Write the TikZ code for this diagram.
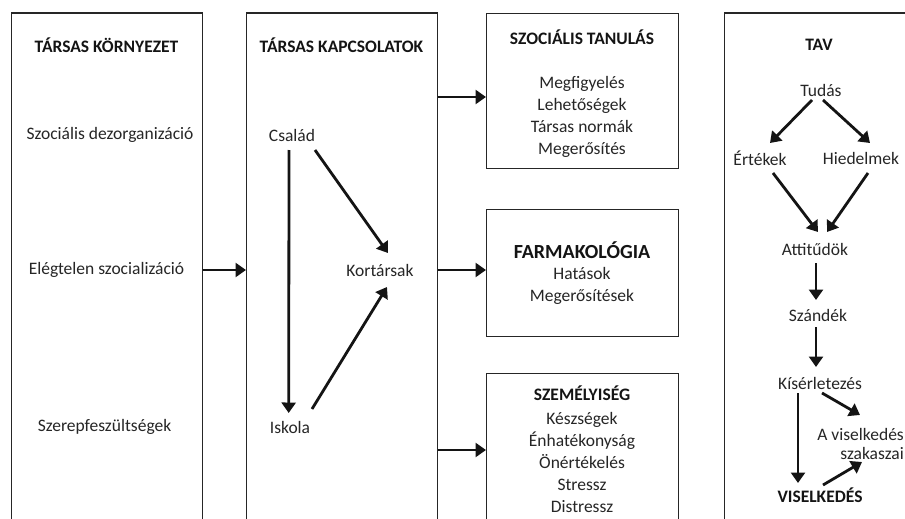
\documentclass[tikz,border=0pt]{standalone}
\usepackage{fontspec}
\setmainfont{Carlito}
\usetikzlibrary{arrows.meta}
\begin{document}
\begin{tikzpicture}[x=1pt,y=-1pt,
  box/.style={draw=black!85, line width=1.3pt, anchor=north west, inner sep=0pt},
  txt/.style={font=\fontsize{17.5}{22}\selectfont, text=black!85, inner sep=0pt, align=center},
  hd/.style={font=\fontsize{17.5}{22}\selectfont\bfseries, text=black!92, inner sep=0pt, align=center},
  arr/.style={line width=2.8pt, draw=black!92, -{Triangle[length=10.5pt,width=14pt]}},
]
\useasboundingbox (0,0) rectangle (905,519);
\clip (0,0) rectangle (905,519);
\fill[white] (0,0) rectangle (905,519);

% boxes
\node[box, minimum width=191pt, minimum height=560pt] (env) at (11,12.5) {};
\node[box, minimum width=191pt, minimum height=560pt] (kap) at (246,12.5) {};
\node[box, minimum width=192pt, minimum height=155pt] (szt) at (486,13) {};
\node[box, minimum width=192pt, minimum height=127pt] (farm) at (486,209) {};
\node[box, minimum width=192pt, minimum height=200pt] (szem) at (486,372.5) {};
\node[box, minimum width=200pt, minimum height=560pt] (tav) at (724,12.5) {};

% box 1
\node[hd] (envh) at (106.5,45) {TÁRSAS KÖRNYEZET};
\node[txt] (dezorg) at (110,135) {Szociális dezorganizáció};
\node[txt] (eleg) at (106.5,270) {Elégtelen szocializáció};
\node[txt] (szerep) at (104.5,427) {Szerepfeszültségek};

% box 2
\node[hd] (kaph) at (341.5,45) {TÁRSAS KAPCSOLATOK};
\node[txt] (csalad) at (292,135) {Család};
\node[txt] (kort) at (380,270) {Kortársak};
\node[txt] (iskola) at (290,427) {Iskola};

\draw[arr] ([shift={(-3,15)}]csalad.center) -- ([shift={(-1.3,-14)}]iskola.center);
\draw[arr] ([shift={(23,15)}]csalad.center) -- ([shift={(8,-17)}]kort.center);
\draw[arr] ([shift={(22,-18)}]iskola.center) -- ([shift={(7,17)}]kort.center);

% box 3
\node[hd] (szth) at (582,37) {SZOCIÁLIS TANULÁS};
\node[txt] (sztl) at (582,116.5) {Megfigyelés\\Lehetőségek\\Társas normák\\Megerősítés};

% box 4
\node[hd, font=\fontsize{20}{22}\selectfont\bfseries] (farmh) at (582,250) {FARMAKOLÓGIA};
\node[txt] (farml) at (582,286) {Hatások\\Megerősítések};

% box 5
\node[hd] (szemh) at (582,393) {SZEMÉLYISÉG};
\node[txt] (szeml) at (582,462) {Készségek\\Énhatékonyság\\Önértékelés\\Stressz\\Distressz};

% main arrows
\coordinate (a1) at (0,97);
\coordinate (a3) at (0,450);
\draw[arr] (env.east |- eleg) -- (kap.west |- eleg);
\draw[arr] (kap.east |- a1) -- (szt.west |- a1);
\draw[arr] (kap.east |- kort) -- (farm.west |- kort);
\draw[arr] (kap.east |- a3) -- (szem.west |- a3);

% TAV
\node[hd] (tavh) at (819,45) {TAV};
\node[txt] (tudas) at (821,90) {Tudás};
\node[txt] (ert) at (760,158) {Értékek};
\node[txt] (hied) at (861,158) {Hiedelmek};
\node[txt] (att) at (815,249) {Attitűdök};
\node[txt] (szand) at (818,315) {Szándék};
\node[txt] (kis) at (820,383) {Kísérletezés};
\node[hd] (vis) at (820,495) {VISELKEDÉS};
\node[txt, align=right, anchor=east, font=\fontsize{17.5}{18.5}\selectfont] (szak) at (904,444) {A viselkedés\\szakaszai};

\draw[arr] ([shift={(-9,10)}]tudas.center) -- ([shift={(10,-15)}]ert.center);
\draw[arr] ([shift={(2,10)}]tudas.center) -- ([shift={(9,-15)}]hied.center);
\draw[arr] ([shift={(13,15)}]ert.center) -- ([shift={(3,-17)}]att.center);
\draw[arr] ([shift={(7,15)}]hied.center) -- ([shift={(12,-17)}]att.center);
\draw[arr] ([shift={(1,14)}]att.center) -- ([shift={(-2,-15)}]szand.center);
\draw[arr] ([shift={(-2,12)}]szand.center) -- ([shift={(-4,-16)}]kis.center);
\draw[arr] ([shift={(-22,10)}]kis.center) -- ([shift={(-22,-12)}]vis.center);
\draw[arr] ([shift={(2,10)}]kis.center) -- ([shift={(-44,-29)}]szak.east);
\draw[arr] ([shift={(3,-10)}]vis.center) -- ([shift={(-42,18)}]szak.east);
\end{tikzpicture}
\end{document}
